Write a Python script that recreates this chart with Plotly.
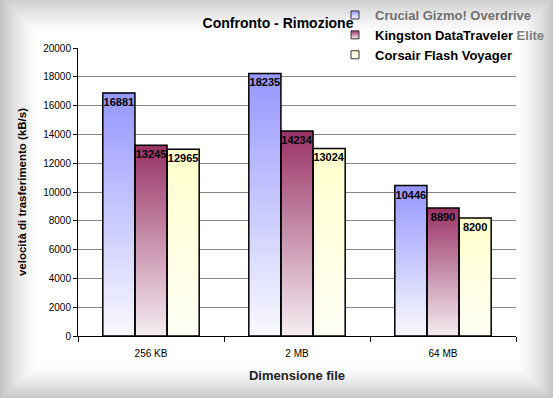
import base64, struct, zlib
import numpy as np
import plotly.graph_objects as go

# ---------------- data ----------------
categories = ["256 KB", "2 MB", "64 MB"]
series_names = ["Crucial Gizmo! Overdrive", "Kingston DataTraveler Elite", "Corsair Flash Voyager"]
crucial = [16881, 18235, 10446]
kingston = [13245, 14234, 8890]
corsair = [12965, 13024, 8200]
series_values = [crucial, kingston, corsair]

# ---------------- style ----------------
W, H = 553, 398
ML, MR, MT, MB = 78, 37, 48, 62
PW, PH = W - ML - MR, H - MT - MB
FONT = "Liberation Sans, Arial, sans-serif"
top_colors = ["rgb(150,150,255)", "rgb(153,51,102)", "rgb(255,255,204)"]
bottom_colors = ["rgb(250,250,255)", "rgb(246,238,242)", "rgb(255,255,246)"]
legend_labels = [
    "<span style='color:#707070'>Crucial Gizmo! Overdrive</span>",
    "Kingston DataTraveler <span style='color:#808080'>Elite</span>",
    "Corsair Flash Voyager",
]
bargap = 0.34
bw = (1 - bargap) / 3
xpos = np.arange(len(categories))


def png_data_uri(rgba):
    h, w, _ = rgba.shape
    raw = b"".join(b"\x00" + rgba[r].tobytes() for r in range(h))

    def chunk(tag, data):
        c = tag + data
        return struct.pack(">I", len(data)) + c + struct.pack(">I", zlib.crc32(c) & 0xFFFFFFFF)

    png = b"\x89PNG\r\n\x1a\n" + chunk(b"IHDR", struct.pack(">IIBBBBB", w, h, 8, 6, 0, 0, 0)) \
        + chunk(b"IDAT", zlib.compress(raw, 9)) + chunk(b"IEND", b"")
    return "data:image/png;base64," + base64.b64encode(png).decode()


# vignette frame (decoration)
yy, xx = np.mgrid[0:H, 0:W].astype(float)
def edge(d, width, strength):
    return strength * np.clip(1 - d / width, 0, 1) ** 1.5
alpha = np.maximum.reduce([
    edge(xx, 40, 0.95), edge(W - 1 - xx, 37, 0.9),
    edge(yy, 36, 0.8), edge(H - 1 - yy, 34, 0.9),
])
frame = np.zeros((H, W, 4), dtype=np.uint8)
frame[..., :3] = 192
frame[..., 3] = (alpha * 255).astype(np.uint8)
frame_uri = png_data_uri(frame)

fig = go.Figure()

# gradient fills behind each bar (heatmaps built from the same data)
for s, vals in enumerate(series_values):
    off = -1.5 * bw + s * bw
    xedges = []
    for c in xpos:
        xedges += [c + off, c + off + bw]
    yedges = np.unique(np.concatenate([np.linspace(0, max(vals), 300), vals]))
    ycent = (yedges[:-1] + yedges[1:]) / 2
    z = []
    for yc in ycent:
        row = []
        for ci, v in enumerate(vals):
            row.append(yc / v if yc < v else None)
            if ci < len(vals) - 1:
                row.append(None)
        z.append(row)
    fig.add_trace(go.Heatmap(
        x=xedges, y=yedges, z=z, zmin=0, zmax=1, zsmooth=False,
        colorscale=[[0, bottom_colors[s]], [1, top_colors[s]]],
        showscale=False, hoverinfo="skip", showlegend=False,
    ))

# the bars themselves (outline + value labels)
for s, vals in enumerate(series_values):
    fig.add_trace(go.Bar(
        x=xpos, y=vals, width=bw, offset=-1.5 * bw + s * bw,
        name=series_names[s], showlegend=False,
        marker=dict(color="rgba(0,0,0,0)", line=dict(color="black", width=1.5)),
        text=[str(v) for v in vals], textposition="inside", insidetextanchor="end",
        textangle=0, constraintext="none", cliponaxis=False,
        textfont=dict(family=FONT, size=11, color="black", weight="bold"),
    ))

# legend entries
for s in range(3):
    fig.add_trace(go.Scatter(
        x=[None], y=[None], mode="markers", name=legend_labels[s],
        legendgroup=str(s),
        marker=dict(symbol="square", size=8, color=top_colors[s],
                    gradient=dict(type="vertical", color=bottom_colors[s]),
                    line=dict(color="#333333", width=1)),
    ))

fig.update_layout(
    width=W, height=H,
    margin=dict(l=ML, r=MR, t=MT, b=MB, autoexpand=False),
    paper_bgcolor="white", plot_bgcolor="white",
    barmode="overlay",
    title=dict(text="Confronto - Rimozione", x=278 / W, xanchor="center",
               y=1 - 23 / H, yanchor="middle", xref="container", yref="container",
               font=dict(family=FONT, size=14, color="black", weight="bold")),
    legend=dict(x=(335 - ML) / PW, xanchor="left", y=1 + MT / PH, yanchor="top",
                bgcolor="rgba(0,0,0,0)", traceorder="normal",
                font=dict(family=FONT, size=13, color="black", weight="bold"),
                itemwidth=30, tracegroupgap=1),
    xaxis=dict(range=[-0.5, 2.5], tickvals=list(xpos), ticktext=categories,
               showgrid=False, zeroline=False, showline=True, linecolor="black", linewidth=1,
               ticks="", ticklabelstandoff=8,
               minor=dict(tick0=-0.5, dtick=1, ticks="outside", ticklen=5, tickcolor="black",
                          showgrid=False),
               tickfont=dict(family=FONT, size=10, color="black"),
               title=dict(text="Dimensione file", standoff=12,
                          font=dict(family=FONT, size=13, color="#222222", weight="bold"))),
    yaxis=dict(range=[0, 20000], dtick=2000, tick0=0, tickformat="d",
               showgrid=True, gridcolor="#858585", gridwidth=1,
               zeroline=False, showline=True, linecolor="black", linewidth=1,
               ticks="outside", ticklen=4, tickcolor="black",
               tickfont=dict(family=FONT, size=10, color="black"),
               title=dict(text="velocità di trasferimento (kB/s)", standoff=14,
                          font=dict(family=FONT, size=11.5, color="black", weight="bold"))),
    images=[dict(source=frame_uri, xref="paper", yref="paper",
                 x=-ML / PW, y=1 + MT / PH, sizex=W / PW, sizey=H / PH,
                 xanchor="left", yanchor="top", sizing="stretch", layer="above")],
)

fig.write_html("out.html", config={"displayModeBar": False},
               post_script="document.body.style.margin='0';")
